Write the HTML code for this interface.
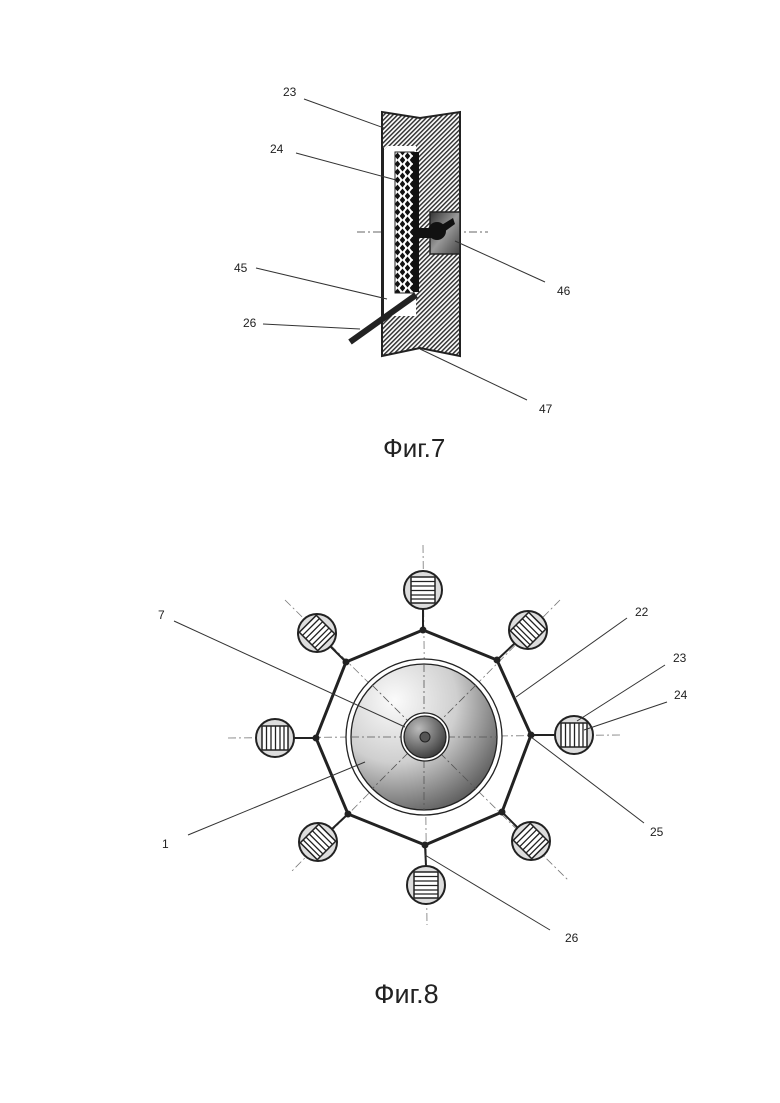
<!DOCTYPE html>
<html><head><meta charset="utf-8"><style>
html,body{margin:0;padding:0;background:#fff;}
svg{display:block;}
text{font-family:"Liberation Sans",sans-serif;fill:#222;}
</style></head><body>
<svg width="780" height="1103" viewBox="0 0 780 1103" xmlns="http://www.w3.org/2000/svg">
<defs>
<pattern id="hatch" patternUnits="userSpaceOnUse" width="3.2" height="3.2" patternTransform="rotate(45)">
<rect width="3.2" height="3.2" fill="#fff"/><rect width="1.5" height="3.2" fill="#333"/>
</pattern>
<pattern id="dots" patternUnits="userSpaceOnUse" x="395" y="152" width="10" height="8">
<rect width="10" height="8" fill="#fff"/>
<path d="M2.5 0.5 L5.3 4 L2.5 7.5 L-0.3 4Z M7.5 -3.5 L10.3 0 L7.5 3.5 L4.7 0Z M7.5 4.5 L10.3 8 L7.5 11.5 L4.7 8Z" fill="#111"/>
</pattern>
<linearGradient id="box46" x1="0" y1="0" x2="1" y2="1">
<stop offset="0" stop-color="#333"/><stop offset="0.5" stop-color="#999"/><stop offset="1" stop-color="#444"/>
</linearGradient>
<radialGradient id="sph" cx="0.3" cy="0.25" r="0.85">
<stop offset="0" stop-color="#fbfbfb"/><stop offset="0.5" stop-color="#cfcfcf"/><stop offset="1" stop-color="#555"/>
</radialGradient>
<radialGradient id="sph2" cx="0.35" cy="0.3" r="0.8">
<stop offset="0" stop-color="#bbb"/><stop offset="1" stop-color="#333"/>
</radialGradient>
<g id="sat">
<circle cx="0" cy="0" r="19" fill="#ddd" stroke="#222" stroke-width="2"/>
<rect x="-13" y="-12" width="26" height="24" fill="#fff" stroke="#222" stroke-width="1.5"/>
<path d="M-8.5 -12V12M-4 -12V12M0.5 -12V12M5 -12V12M9 -12V12" stroke="#222" stroke-width="1.3"/>
</g>
</defs>

<!-- Fig 7 -->
<line x1="357" y1="232" x2="488" y2="232" stroke="#666" stroke-width="1" stroke-dasharray="8,3,2,3"/>
<path d="M382 112 L420 118 L460 112 L460 356 L420 348 L382 356 Z" fill="url(#hatch)" stroke="#222" stroke-width="2"/>
<path d="M384 150 L388 146 L416 146 L416 316 L384 316 Z" fill="#fff"/>
<line x1="383" y1="148" x2="383" y2="318" stroke="#222" stroke-width="2"/>
<rect x="395" y="152" width="19" height="141" fill="url(#dots)" stroke="#222" stroke-width="1"/>
<rect x="413" y="152" width="6" height="140" fill="#111"/>
<rect x="430" y="212" width="30" height="42" fill="url(#box46)" stroke="#222" stroke-width="1.5"/>
<rect x="416" y="228" width="20" height="10" fill="#111"/>
<circle cx="437" cy="231" r="9" fill="#111"/>
<path d="M440 226 L453 218 L455 224 L444 232Z" fill="#111"/>
<line x1="350" y1="342" x2="416" y2="295" stroke="#222" stroke-width="6"/>
<g stroke="#333" stroke-width="1" fill="none">
<line x1="304" y1="99" x2="384" y2="128"/>
<line x1="296" y1="153" x2="396" y2="180"/>
<line x1="256" y1="268" x2="387" y2="299"/>
<line x1="263" y1="324" x2="360" y2="329"/>
<line x1="455" y1="241" x2="545" y2="282"/>
<line x1="420" y1="349" x2="527" y2="400"/>
</g>

<text x="283" y="96" font-size="12">23</text>
<text x="270" y="153" font-size="12">24</text>
<text x="234" y="272" font-size="12">45</text>
<text x="243" y="327" font-size="12">26</text>
<text x="557" y="295" font-size="12">46</text>
<text x="539" y="413" font-size="12">47</text>
<text x="383" y="457" font-size="26">Фиг.7</text>

<!-- Fig 8 -->
<g stroke="#777" stroke-width="0.8" stroke-dasharray="8,3,2,3" fill="none">
<line x1="423" y1="545" x2="427" y2="925"/>
<line x1="228" y1="738" x2="620" y2="735"/>
<line x1="285" y1="600" x2="568" y2="880"/>
<line x1="560" y1="600" x2="290" y2="873"/>
</g>
<circle cx="424" cy="737" r="78" fill="#fff" stroke="#222" stroke-width="1.3"/>
<circle cx="424" cy="737" r="73" fill="url(#sph)" stroke="#222" stroke-width="1.3"/>
<g stroke="#555" stroke-width="0.8" stroke-dasharray="8,3,2,3" fill="none">
<line x1="424" y1="664" x2="424" y2="810"/>
<line x1="351" y1="737" x2="497" y2="737"/>
<line x1="372" y1="685" x2="476" y2="789"/>
<line x1="476" y1="685" x2="372" y2="789"/>
</g>
<circle cx="425" cy="737" r="24" fill="#fff" stroke="#222" stroke-width="1.3"/>
<circle cx="425" cy="737" r="21" fill="url(#sph2)" stroke="#222" stroke-width="1.3"/>
<circle cx="425" cy="737" r="5" fill="#555" stroke="#222"/>

<g stroke="#222" stroke-width="2">
<line x1="423" y1="630" x2="423" y2="609"/>
<line x1="497" y1="660" x2="514" y2="644"/>
<line x1="531" y1="735" x2="555" y2="735"/>
<line x1="502" y1="812" x2="518" y2="828"/>
<line x1="425" y1="845" x2="426" y2="866"/>
<line x1="348" y1="814" x2="332" y2="829"/>
<line x1="316" y1="738" x2="294" y2="738"/>
<line x1="346" y1="662" x2="331" y2="647"/>
</g>
<polygon points="423,630 497,660 531,735 502,812 425,845 348,814 316,738 346,662" fill="none" stroke="#222" stroke-width="3"/>
<g fill="#222">
<circle cx="423" cy="630" r="3.5"/><circle cx="497" cy="660" r="3.5"/><circle cx="531" cy="735" r="3.5"/><circle cx="502" cy="812" r="3.5"/>
<circle cx="425" cy="845" r="3.5"/><circle cx="348" cy="814" r="3.5"/><circle cx="316" cy="738" r="3.5"/><circle cx="346" cy="662" r="3.5"/>
</g>
<use href="#sat" transform="translate(423,590) rotate(90)"/>
<use href="#sat" transform="translate(528,630) rotate(135)"/>
<use href="#sat" transform="translate(574,735)"/>
<use href="#sat" transform="translate(531,841) rotate(45)"/>
<use href="#sat" transform="translate(426,885) rotate(90)"/>
<use href="#sat" transform="translate(318,842) rotate(135)"/>
<use href="#sat" transform="translate(275,738)"/>
<use href="#sat" transform="translate(317,633) rotate(45)"/>

<g stroke="#333" stroke-width="1" fill="none">
<line x1="174" y1="621" x2="405" y2="727"/>
<line x1="188" y1="835" x2="365" y2="762"/>
<line x1="627" y1="618" x2="516" y2="697"/>
<line x1="665" y1="665" x2="577" y2="721"/>
<line x1="667" y1="702" x2="584" y2="730"/>
<line x1="531" y1="737" x2="644" y2="823"/>
<line x1="425" y1="855" x2="550" y2="930"/>
</g>

<text x="158" y="619" font-size="12">7</text>
<text x="162" y="848" font-size="12">1</text>
<text x="635" y="616" font-size="12">22</text>
<text x="673" y="662" font-size="12">23</text>
<text x="674" y="699" font-size="12">24</text>
<text x="650" y="836" font-size="12">25</text>
<text x="565" y="942" font-size="12">26</text>
<text x="374" y="1003" font-size="27">Фиг.8</text>
</svg>
</body></html>
